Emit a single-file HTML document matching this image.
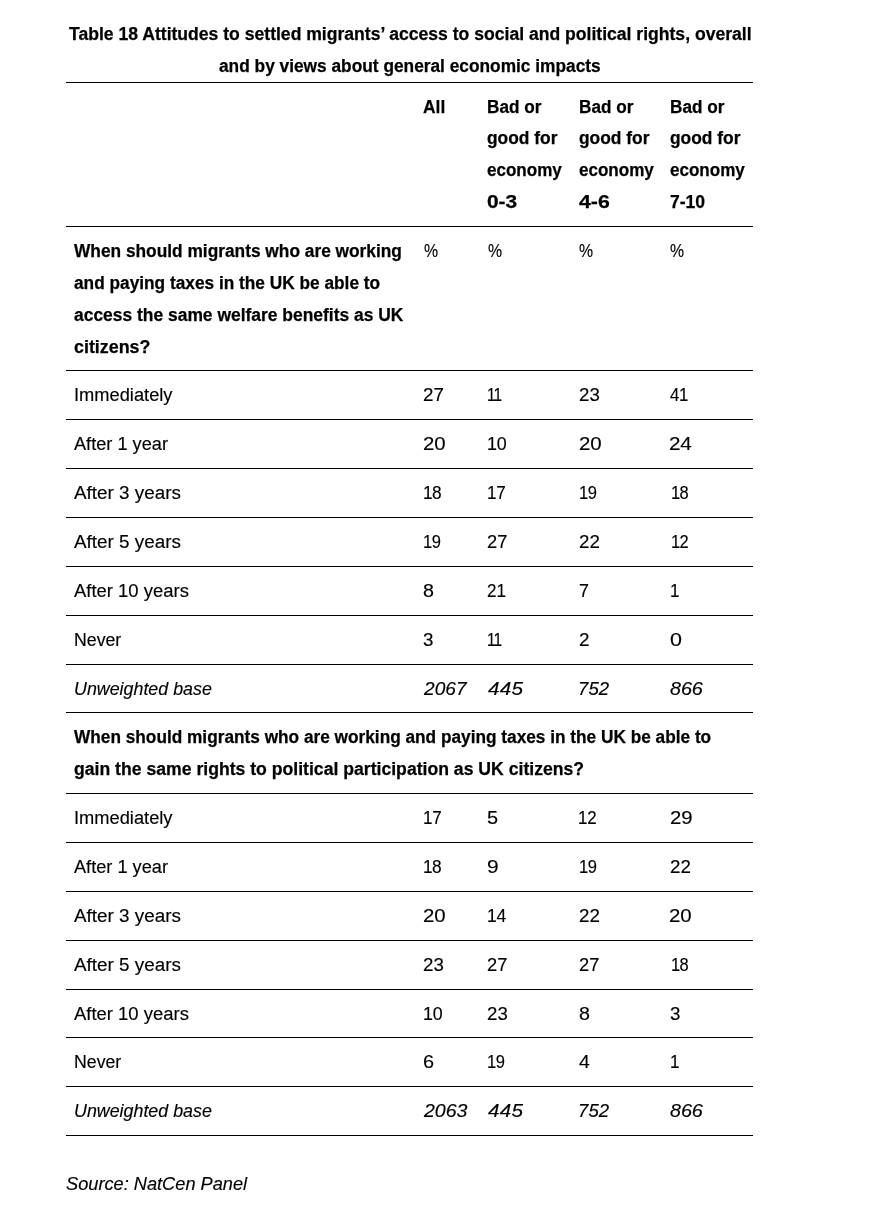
<!DOCTYPE html>
<html lang="en">
<head>
<meta charset="utf-8">
<title>Table 18 Attitudes to settled migrants’ access to social and political rights</title>
<style>
html,body{margin:0;padding:0;background:#fff;}
body{width:876px;height:1216px;overflow:hidden;position:relative;font-family:"Liberation Sans",sans-serif;font-size:18px;line-height:32px;color:#000;-webkit-text-stroke:0.15px #000;}
.wrap{position:absolute;left:66px;top:0;width:687px;}
.cap{-webkit-text-stroke:0.25px #000;margin:0;padding:18px 0 0 0;height:82px;font-size:18px;font-weight:bold;text-align:left;box-sizing:border-box;}
.l{display:block;position:relative;white-space:nowrap;width:max-content;transform-origin:0 50%;}
tr.h .l+.l{top:-1px;}
table{border-collapse:separate;border-spacing:0;width:687px;table-layout:fixed;border-bottom:1px solid #000;}
td,th{box-sizing:border-box;padding:8px 0 0 0;vertical-align:top;text-align:left;font-weight:normal;border-top:1px solid #000;overflow:visible;}
tr.h th{font-weight:bold;-webkit-text-stroke:0.25px #000;padding-top:8px;}
tr.q td:first-child{font-weight:bold;-webkit-text-stroke:0.25px #000;}
tr.i td{font-style:italic;}
.src{position:absolute;left:0;top:1168px;margin:0;font-style:italic;}
</style>
</head>
<body>
<div class="wrap">
<p class="cap"><span id="t1" class="l" style="transform:scaleX(0.9762);left:2.74px">Table 18 Attitudes to settled migrants’ access to social and political rights, overall</span><span id="t2" class="l" style="transform:scaleX(0.9611);left:152.72px">and by views about general economic impacts</span></p>
<table>
<colgroup><col style="width:349px"><col style="width:64px"><col style="width:92px"><col style="width:91px"><col style="width:91px"></colgroup>
<tr class="h"><th style="height:144px"></th><th><span id="t3" class="l" style="transform:scaleX(0.9661);left:8.15px">All</span></th><th><span id="t4" class="l" style="transform:scaleX(0.9544);left:7.98px">Bad or</span><span id="t5" class="l" style="transform:scaleX(0.9649);left:8.28px">good for</span><span id="t6" class="l" style="transform:scaleX(0.9469);left:8.34px">economy</span><span id="t7" class="l" style="transform:scaleX(1.1606);left:7.99px">0-3</span></th><th><span id="t8" class="l" style="transform:scaleX(0.9544);left:7.98px">Bad or</span><span id="t9" class="l" style="transform:scaleX(0.9649);left:7.53px">good for</span><span id="t10" class="l" style="transform:scaleX(0.9469);left:7.59px">economy</span><span id="t11" class="l" style="transform:scaleX(1.1821);left:8.25px">4-6</span></th><th><span id="t12" class="l" style="transform:scaleX(0.9544);left:7.98px">Bad or</span><span id="t13" class="l" style="transform:scaleX(0.9649);left:8.28px">good for</span><span id="t14" class="l" style="transform:scaleX(0.9469);left:8.34px">economy</span><span id="t15" class="l" style="transform:scaleX(0.9753);left:8.42px">7-10</span></th></tr>
<tr class="q"><td style="height:144px"><span id="t16" class="l" style="transform:scaleX(0.9616);left:8.15px">When should migrants who are working</span><span id="t17" class="l" style="transform:scaleX(0.9594);left:7.74px">and paying taxes in the UK be able to</span><span id="t18" class="l" style="transform:scaleX(0.9683);left:7.68px">access the same welfare benefits as UK</span><span id="t19" class="l" style="transform:scaleX(0.9927);left:7.55px">citizens?</span></td><td><span id="t20" class="l" style="transform:scaleX(0.8802);left:8.70px">%</span></td><td><span id="t21" class="l" style="transform:scaleX(0.8800);left:8.67px">%</span></td><td><span id="t22" class="l" style="transform:scaleX(0.8800);left:8.42px">%</span></td><td><span id="t23" class="l" style="transform:scaleX(0.8800);left:8.42px">%</span></td></tr>
<tr class="n"><td style="height:49px"><span id="t24" class="l" style="transform:scaleX(1.0152);left:7.72px">Immediately</span></td><td><span id="t25" class="l" style="letter-spacing:0.051px;transform:scaleX(1.0433);left:7.93px">27</span></td><td><span id="t26" class="l" style="letter-spacing:-1.129px;transform:scaleX(0.8600);left:7.64px">11</span></td><td><span id="t27" class="l" style="letter-spacing:0.017px;transform:scaleX(1.0367);left:7.98px">23</span></td><td><span id="t28" class="l" style="letter-spacing:-0.352px;transform:scaleX(0.9321);left:7.67px">41</span></td></tr>
<tr class="n"><td style="height:49px"><span id="t29" class="l" style="transform:scaleX(1.0096);left:7.99px">After 1 year</span></td><td><span id="t30" class="l" style="letter-spacing:-0.040px;transform:scaleX(1.1345);left:8.02px">20</span></td><td><span id="t31" class="l" style="letter-spacing:-0.089px;transform:scaleX(0.9936);left:7.81px">10</span></td><td><span id="t32" class="l" style="letter-spacing:-0.040px;transform:scaleX(1.1345);left:8.02px">20</span></td><td><span id="t33" class="l" style="letter-spacing:-0.237px;transform:scaleX(1.1446);left:7.44px">24</span></td></tr>
<tr class="n"><td style="height:49px"><span id="t34" class="l" style="transform:scaleX(1.0477);left:7.97px">After 3 years</span></td><td><span id="t35" class="l" style="letter-spacing:-0.547px;transform:scaleX(0.9608);left:8.20px">18</span></td><td><span id="t36" class="l" style="letter-spacing:-0.260px;transform:scaleX(0.9504);left:7.74px">17</span></td><td><span id="t37" class="l" style="letter-spacing:-0.358px;transform:scaleX(0.9177);left:7.62px">19</span></td><td><span id="t38" class="l" style="letter-spacing:-0.744px;transform:scaleX(0.9155);left:9.45px">18</span></td></tr>
<tr class="n"><td style="height:49px"><span id="t39" class="l" style="transform:scaleX(1.0477);left:7.97px">After 5 years</span></td><td><span id="t40" class="l" style="letter-spacing:-0.358px;transform:scaleX(0.9177);left:7.62px">19</span></td><td><span id="t41" class="l" style="transform:scaleX(1.0162);left:8.25px">27</span></td><td><span id="t42" class="l" style="letter-spacing:0.051px;transform:scaleX(1.0433);left:7.93px">22</span></td><td><span id="t43" class="l" style="letter-spacing:-0.642px;transform:scaleX(0.9184);left:9.41px">12</span></td></tr>
<tr class="n"><td style="height:49px"><span id="t44" class="l" style="transform:scaleX(1.0251);left:8.00px">After 10 years</span></td><td><span id="t45" class="l" style="transform:scaleX(1.0936);left:8.20px">8</span></td><td><span id="t46" class="l" style="letter-spacing:-0.093px;transform:scaleX(0.9457);left:7.67px">21</span></td><td><span id="t47" class="l" style="transform:scaleX(0.9946);left:8.23px">7</span></td><td><span id="t48" class="l" style="transform:scaleX(0.9500);left:8.48px">1</span></td></tr>
<tr class="n"><td style="height:49px"><span id="t49" class="l" style="transform:scaleX(0.9841);left:7.98px">Never</span></td><td><span id="t50" class="l" style="transform:scaleX(1.0441);left:7.85px">3</span></td><td><span id="t51" class="l" style="letter-spacing:-1.129px;transform:scaleX(0.8600);left:7.64px">11</span></td><td><span id="t52" class="l" style="transform:scaleX(1.0501);left:7.86px">2</span></td><td><span id="t53" class="l" style="transform:scaleX(1.1928);left:8.06px">0</span></td></tr>
<tr class="i"><td style="height:48px"><span id="t54" class="l" style="transform:scaleX(0.9907);left:8.35px">Unweighted base</span></td><td><span id="t55" class="l" style="letter-spacing:0.025px;transform:scaleX(1.0608);left:8.88px">2067</span></td><td><span id="t56" class="l" style="letter-spacing:0.173px;transform:scaleX(1.1500);left:8.54px">445</span></td><td><span id="t57" class="l" style="letter-spacing:0.070px;transform:scaleX(1.0317);left:7.01px">752</span></td><td><span id="t58" class="l" style="letter-spacing:-0.083px;transform:scaleX(1.1009);left:8.17px">866</span></td></tr>
<tr class="q"><td style="height:81px" colspan="5"><span id="t59" class="l" style="transform:scaleX(0.9580);left:8.17px">When should migrants who are working and paying taxes in the UK be able to</span><span id="t60" class="l" style="transform:scaleX(0.9789);left:7.54px">gain the same rights to political participation as UK citizens?</span></td></tr>
<tr class="n"><td style="height:49px"><span id="t61" class="l" style="transform:scaleX(1.0152);left:7.72px">Immediately</span></td><td><span id="t62" class="l" style="letter-spacing:-0.260px;transform:scaleX(0.9504);left:7.74px">17</span></td><td><span id="t63" class="l" style="transform:scaleX(1.1070);left:7.99px">5</span></td><td><span id="t64" class="l" style="letter-spacing:-0.252px;transform:scaleX(0.9381);left:7.39px">12</span></td><td><span id="t65" class="l" style="letter-spacing:0.047px;transform:scaleX(1.1294);left:8.04px">29</span></td></tr>
<tr class="n"><td style="height:49px"><span id="t66" class="l" style="transform:scaleX(1.0096);left:7.99px">After 1 year</span></td><td><span id="t67" class="l" style="letter-spacing:-0.547px;transform:scaleX(0.9608);left:8.20px">18</span></td><td><span id="t68" class="l" style="transform:scaleX(1.1641);left:7.68px">9</span></td><td><span id="t69" class="l" style="letter-spacing:-0.358px;transform:scaleX(0.9177);left:7.62px">19</span></td><td><span id="t70" class="l" style="letter-spacing:0.051px;transform:scaleX(1.0433);left:7.93px">22</span></td></tr>
<tr class="n"><td style="height:49px"><span id="t71" class="l" style="transform:scaleX(1.0477);left:7.97px">After 3 years</span></td><td><span id="t72" class="l" style="letter-spacing:-0.040px;transform:scaleX(1.1345);left:8.02px">20</span></td><td><span id="t73" class="l" style="letter-spacing:-0.174px;transform:scaleX(0.9734);left:8.01px">14</span></td><td><span id="t74" class="l" style="letter-spacing:0.051px;transform:scaleX(1.0433);left:7.93px">22</span></td><td><span id="t75" class="l" style="letter-spacing:-0.040px;transform:scaleX(1.1345);left:7.02px">20</span></td></tr>
<tr class="n"><td style="height:49px"><span id="t76" class="l" style="transform:scaleX(1.0477);left:7.97px">After 5 years</span></td><td><span id="t77" class="l" style="letter-spacing:0.017px;transform:scaleX(1.0367);left:7.98px">23</span></td><td><span id="t78" class="l" style="transform:scaleX(1.0162);left:8.25px">27</span></td><td><span id="t79" class="l" style="transform:scaleX(1.0162);left:8.25px">27</span></td><td><span id="t80" class="l" style="letter-spacing:-0.744px;transform:scaleX(0.9155);left:9.45px">18</span></td></tr>
<tr class="n"><td style="height:48px"><span id="t81" class="l" style="transform:scaleX(1.0251);left:8.00px">After 10 years</span></td><td><span id="t82" class="l" style="letter-spacing:-0.214px;transform:scaleX(0.9892);left:7.88px">10</span></td><td><span id="t83" class="l" style="letter-spacing:0.017px;transform:scaleX(1.0367);left:7.98px">23</span></td><td><span id="t84" class="l" style="transform:scaleX(1.0936);left:8.20px">8</span></td><td><span id="t85" class="l" style="transform:scaleX(1.0441);left:7.85px">3</span></td></tr>
<tr class="n"><td style="height:49px"><span id="t86" class="l" style="transform:scaleX(0.9841);left:7.98px">Never</span></td><td><span id="t87" class="l" style="transform:scaleX(1.1048);left:7.75px">6</span></td><td><span id="t88" class="l" style="letter-spacing:-0.358px;transform:scaleX(0.9177);left:7.62px">19</span></td><td><span id="t89" class="l" style="transform:scaleX(1.0809);left:8.29px">4</span></td><td><span id="t90" class="l" style="transform:scaleX(0.9500);left:8.48px">1</span></td></tr>
<tr class="i"><td style="height:49px"><span id="t91" class="l" style="transform:scaleX(0.9907);left:8.35px">Unweighted base</span></td><td><span id="t92" class="l" style="letter-spacing:0.001px;transform:scaleX(1.0838);left:8.88px">2063</span></td><td><span id="t93" class="l" style="letter-spacing:0.173px;transform:scaleX(1.1500);left:8.54px">445</span></td><td><span id="t94" class="l" style="letter-spacing:0.070px;transform:scaleX(1.0317);left:7.01px">752</span></td><td><span id="t95" class="l" style="letter-spacing:-0.083px;transform:scaleX(1.1009);left:8.17px">866</span></td></tr>
</table>
<p class="src"><span id="t96" class="l" style="transform:scaleX(1.0112);left:0.29px">Source: NatCen Panel</span></p>
</div>
</body>
</html>
